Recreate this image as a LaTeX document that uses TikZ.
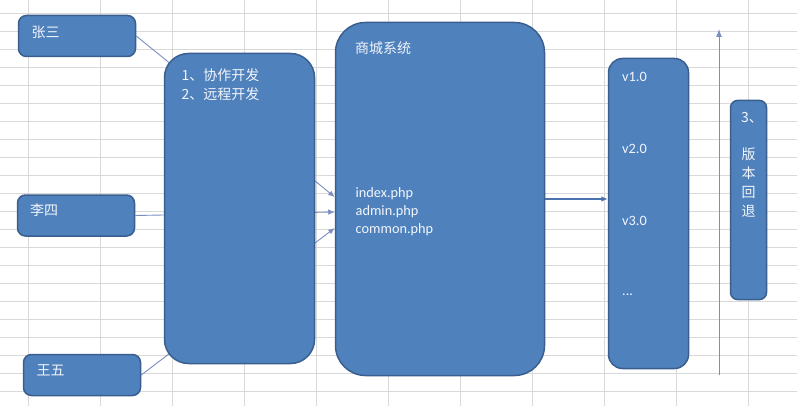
\documentclass[tikz,border=0pt]{standalone}
\usepackage{fontspec}
\setmainfont{Carlito}
\newfontfamily\cjk{Noto Sans CJK SC}
\usetikzlibrary{arrows.meta}

\definecolor{boxfill}{HTML}{4F81BD}
\definecolor{boxline}{HTML}{3A5F8F}
\definecolor{boxtext}{HTML}{F2F5FB}
\definecolor{gridc}{HTML}{D9D9D9}
\definecolor{linkc}{HTML}{7A8FC0}
\definecolor{flowc}{HTML}{4A72B0}

\tikzset{
  blk/.style={draw=boxline, fill=boxfill, line width=1.5pt, inner sep=0pt},
  person/.style={blk, rounded corners=8pt, minimum width=117pt, minimum height=41pt},
  zh/.style={text=boxtext, inner sep=0pt, anchor=west, font=\cjk\fontsize{14}{16}\selectfont},
  en/.style={text=boxtext, inner sep=0pt, anchor=base west, font=\fontsize{14.3}{16}\selectfont},
  link/.style={draw=linkc, line width=0.9pt, -{Latex[length=6.5pt,width=5.5pt]}},
}

\begin{document}
\begin{tikzpicture}[x=1pt, y=-1pt]
        \useasboundingbox[fill=white] (0,0) rectangle (797,406);

        % sheet grid
        \foreach \x in {0,...,10} { \draw[gridc, line width=0.8pt] (28+72*\x,0) -- (28+72*\x,406); }
        \foreach \y in {0,...,21} { \draw[gridc, line width=0.8pt] (0,13.3+18.02*\y) -- (797,13.3+18.02*\y); }

        % boxes
        \node[person] (zs) at (77,36) {};
        \node[person] (ls) at (76,215.5) {};
        \node[person] (ww) at (82,375) {};
        \node[blk, rounded corners=30pt, minimum width=209pt, minimum height=353pt] (mall) at (440,199) {};
        \node[blk, rounded corners=14pt, minimum width=80pt, minimum height=310pt] (ver) at (648.5,213.5) {};
        \node[blk, rounded corners=7pt, minimum width=36pt, minimum height=199pt] (back) at (748.5,200) {};

        % connectors
        \draw[link] (zs.east) -- ([yshift=2pt]mall.west);
        \draw[link] (ls.east) -- ([yshift=-13pt]mall.west);
        \draw[link] (ww.east) -- ([yshift=-29pt]mall.west);
        \draw[link, draw=flowc, line width=1.1pt] (mall.east) -- (mall.east -| ver.west);
        \coordinate (rb) at (719,375);
        \coordinate (rt) at (719,29);
        \draw[link, line width=1pt, -{Latex[length=8pt,width=6pt]}] (rb) -- (rt);

        \node[blk, rounded corners=24pt, minimum width=150pt, minimum height=310pt] (dev) at (239.5,208.5) {};

        % texts
        \node[zh] (zs-t) at (31.5,32) {张三};
        \node[zh] (ls-t) at (30,210.5) {李四};
        \node[zh] (ww-t) at (36.5,370) {王五};
        \node[zh] (dev-a) at (181.5,75) {1、协作开发};
        \node[zh] (dev-b) at (181.5,94) {2、远程开发};
        \node[zh] (mall-t) at (355,48) {商城系统};
        \node[en] (f1) at (355.5,197) {index.php};
        \node[en] (f2) at (355.5,215) {admin.php};
        \node[en] (f3) at (355.5,233) {common.php};
        \node[en] (v1) at (622,82) {v1.0};
        \node[en] (v2) at (622,154) {v2.0};
        \node[en] (v3) at (622,225) {v3.0};
        \node[en] (v4) at (622,295) {...};
        \node[zh] (back-n) at (741,117.5) {3、};
        \foreach \c [count=\i] in {版,本,回,退} { \node[zh, anchor=center] (back-\i) at (748.5,135+19*\i) {\c}; }
\end{tikzpicture}
\end{document}
